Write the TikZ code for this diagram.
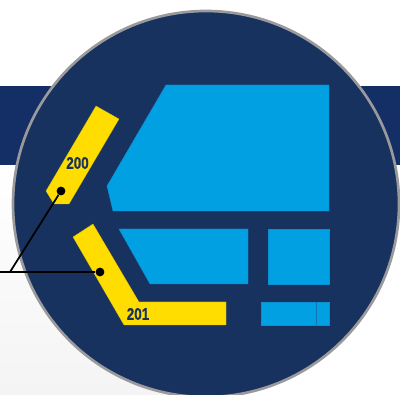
\documentclass[tikz,border=0pt]{standalone}
\usepackage{fontspec}
\setmainfont[FakeStretch=0.8,BoldFeatures={FakeBold=0.6}]{Liberation Sans}
\definecolor{navy}{HTML}{17325F}
\definecolor{band}{HTML}{142F66}
\definecolor{sky}{HTML}{00A0E3}
\definecolor{skyedge}{HTML}{0A8FD0}
\definecolor{gold}{HTML}{FFDD00}
\definecolor{ring}{HTML}{9A9A9C}
\definecolor{paperlow}{HTML}{F4F4F4}
\tikzset{
  zone/.style={fill=sky,draw=skyedge,line width=0.3pt},
  rail/.style={fill=gold,draw=gold!85!black,line width=0.2pt},
  tag/.style={font=\bfseries\fontsize{12.6}{13}\selectfont,text=navy,inner sep=0pt},
  pin/.style={circle,fill=black,minimum size=6.6pt,inner sep=0pt},
  leader/.style={draw=black,line width=1.3pt}
}
\begin{document}
\begin{tikzpicture}[x=0.75pt,y=-0.75pt]
\useasboundingbox (0,0) rectangle (400,395);
\fill[white] (0,0) rectangle (400,395);
\shade[top color=white,bottom color=paperlow] (0,165) rectangle (210,395);
\fill[band] (0,86) rectangle (400,165);
\begin{scope}
\clip (0,0) rectangle (400,395);
\fill[navy,draw=ring,line width=2pt] (206,204) circle [radius=193];
\end{scope}
\fill[rail] (96,106) -- (119,119) -- (69,204) -- (54,204) -- (46,191) -- cycle;
\fill[rail] (73,237) -- (93,224) -- (139,302) -- (226,302) -- (226,325) -- (124,325) -- cycle;
\draw[zone] (166,85) -- (329,85) -- (329,211) -- (113,211) -- (107,186) -- cycle;
\draw[zone] (119,229) -- (248,229) -- (248,284) -- (150,284) -- cycle;
\draw[zone] (268,229) rectangle (329,284);
\draw[zone] (261,302) rectangle (329,325);
\draw[draw=skyedge!70!navy,line width=0.7pt] (316.5,302) -- (316.5,325);
\node[tag] (t200) at (77.5,163) {200};
\node[tag] (t201) at (138,314) {201};
\node[pin] (p200) at (61,191) {};
\node[pin] (p201) at (100,272) {};
\coordinate (start) at (0,272);
\coordinate (knee) at (10,272);
\draw[leader] (start) -- (p201);
\draw[leader] (knee) -- (p200);
\end{tikzpicture}
\end{document}
